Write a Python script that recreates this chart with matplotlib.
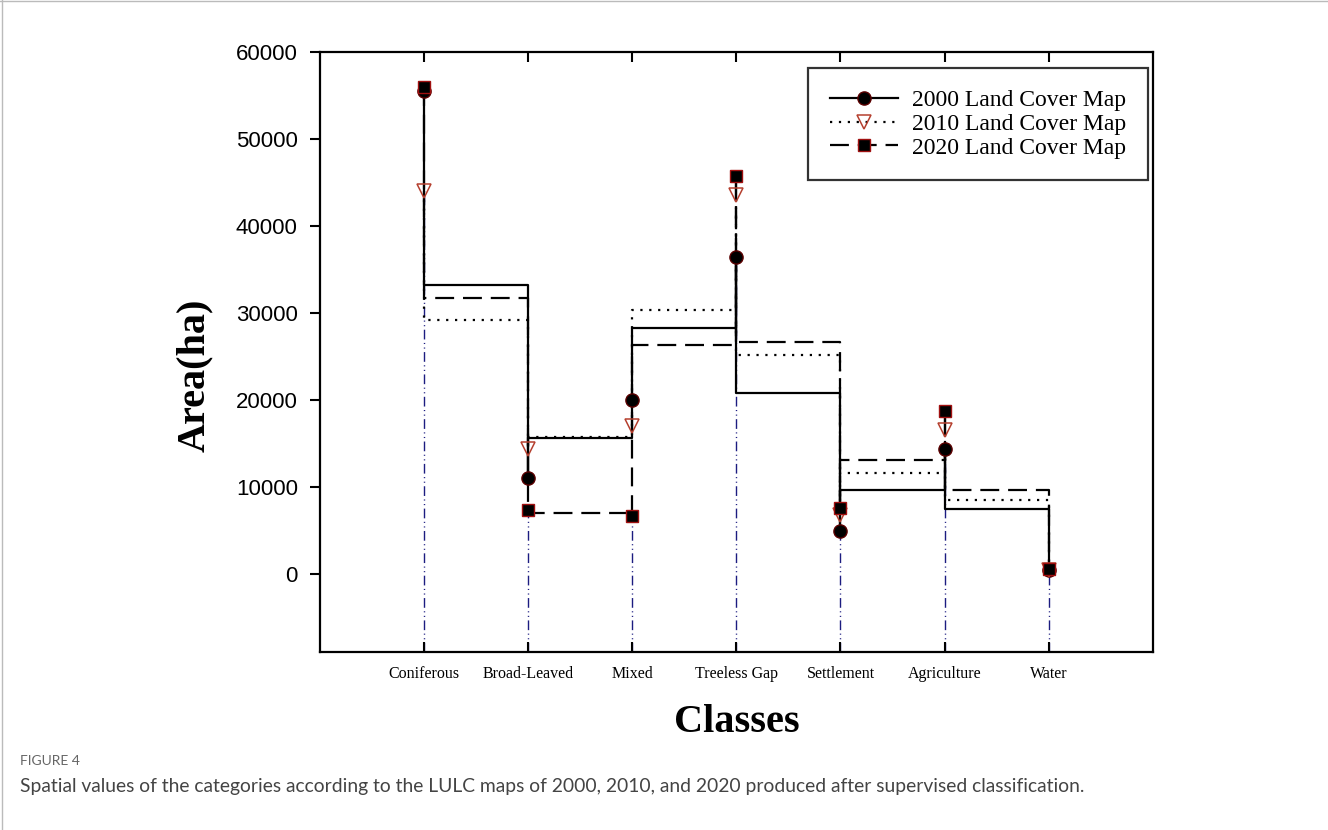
import matplotlib
matplotlib.use("Agg")
import matplotlib.pyplot as plt
from matplotlib.lines import Line2D
import numpy as np

classes = ["Coniferous", "Broad-Leaved", "Mixed", "Treeless Gap",
           "Settlement", "Agriculture", "Water"]

# area (ha) per class
area_2000 = [55500, 11000, 20000, 36500, 4900, 14400, 400]
area_2010 = [44000, 14400, 17000, 43600, 6800, 16500, 400]
area_2020 = [56000, 7300, 6700, 45800, 7600, 18700, 500]

# levels of the horizontal steps between neighbouring classes
step_2000 = [33250, 15600, 28300, 20800, 9600, 7400]
step_2010 = [29250, 15700, 30400, 25150, 11600, 8450]
step_2020 = [31700, 7000, 26300, 26650, 13100, 9600]

serif = "Liberation Serif"
sans = "Liberation Sans"

fig = plt.figure(figsize=(13.28, 8.30), dpi=100)
ax = fig.add_axes([0.241, 0.2145, 0.627, 0.7225])

x = np.arange(len(classes))


def step_path(vals, steps):
    xs, ys = [x[0]], [vals[0]]
    for i, lev in enumerate(steps):
        xs += [x[i], x[i + 1], x[i + 1]]
        ys += [lev, lev, vals[i + 1]]
    return xs, ys


# drop lines to the bottom
low = np.minimum(np.minimum(area_2000, area_2010), area_2020)
for xi, v in zip(x, low):
    ax.plot([xi, xi], [-9000, v], color="#1c1c80", lw=1.0,
            dashes=(7, 2.5, 0.8, 2.5, 0.8, 2.5), zorder=1)

series = [
    (area_2000, step_2000, "2000 Land Cover Map", "-", None,
     dict(marker="o", ms=9.5, mfc="black", mec="#5a0000", mew=1.0)),
    (area_2010, step_2010, "2010 Land Cover Map", ":", (1, 3),
     dict(marker="v", ms=10, mfc="none", mec="#b5402f", mew=1.1)),
    (area_2020, step_2020, "2020 Land Cover Map", "--", (8.5, 4),
     dict(marker="s", ms=8.5, mfc="black", mec="#a01010", mew=1.0)),
]

handles = []
for k, (vals, steps, label, ls, dash, mk) in enumerate(series):
    xs, ys = step_path(vals, steps)
    line, = ax.plot(xs, ys, color="black", lw=1.6, ls=ls, zorder=2 + k)
    if dash is not None:
        line.set_dashes(dash)
    ax.plot(x, vals, ls="none", zorder=6 + k, **mk)
    h = Line2D([], [], color="black", lw=1.6, ls=ls, **mk)
    if dash is not None:
        h.set_dashes(dash)
    handles.append(h)

ax.set_xlim(-1, 7)
ax.set_ylim(-9000, 60000)
ax.set_yticks(np.arange(0, 60001, 10000))
ax.set_xticks(x)
ax.set_xticklabels(classes, fontfamily=serif, fontsize=11.5)
for t in ax.get_yticklabels():
    t.set_fontfamily(sans)
    t.set_fontsize(16)

ax.tick_params(axis="y", direction="out", length=7, width=1.5, pad=9, right=False)
ax.tick_params(axis="x", direction="in", length=7, width=1.5, pad=10,
               top=True, bottom=True)
for s in ax.spines.values():
    s.set_linewidth(1.6)

leg = ax.legend(handles=handles, labels=[s[2] for s in series],
                loc="upper right", bbox_to_anchor=(0.994, 0.973),
                borderaxespad=0, frameon=True, fancybox=False,
                prop={"family": serif, "size": 17}, handlelength=2.9,
                handletextpad=0.6, labelspacing=0.09, borderpad=0.9)
leg.get_frame().set_edgecolor("black")
leg.get_frame().set_linewidth(1.6)

fig.text(195 / 1328, 1 - 375 / 830, "Area(ha)", rotation=90, ha="center",
         va="center", fontfamily=serif, fontweight="bold", fontsize=29)
fig.text(737 / 1328, 1 - 722 / 830, "Classes", ha="center", va="center",
         fontfamily=serif, fontweight="bold", fontsize=29)

fig.text(20 / 1328, 1 - 761 / 830, "FIGURE 4", ha="left", va="center",
         fontfamily="Lato", fontsize=10, color="#666666")
fig.text(20 / 1328, 1 - 786 / 830,
         "Spatial values of the categories according to the LULC maps of 2000, "
         "2010, and 2020 produced after supervised classification.",
         ha="left", va="center", fontfamily="Lato", fontsize=13.9, color="#444444")

# thin page border on top and left
fig.add_artist(Line2D([0, 1], [0.999, 0.999], transform=fig.transFigure,
                      color="#bbbbbb", lw=1))
fig.add_artist(Line2D([0.0015, 0.0015], [0, 1], transform=fig.transFigure,
                      color="#bbbbbb", lw=1))

fig.savefig("out.png", dpi=100)
